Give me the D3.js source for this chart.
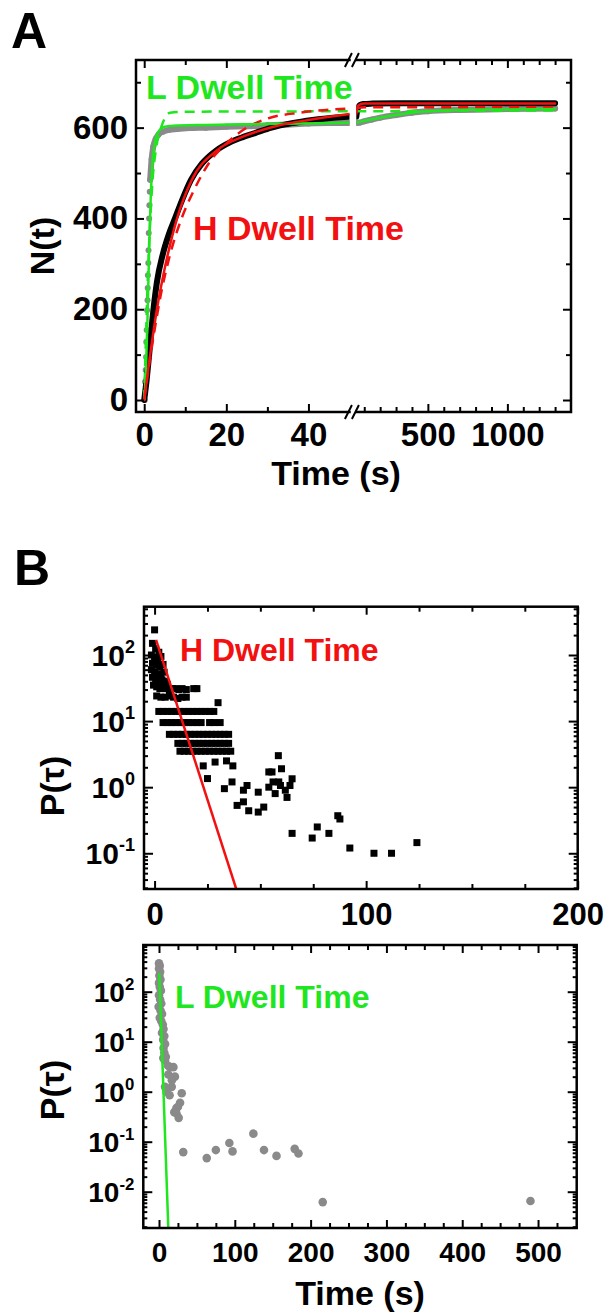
<!DOCTYPE html>
<html><head><meta charset="utf-8">
<script src="https://cdn.jsdelivr.net/npm/d3@7"></script>
<style>
body{margin:0;background:#fff;}
svg{display:block;}
</style></head><body>
<svg id="chart" width="605" height="1314"></svg>
<script>
// ---------------- DATA ----------------
// Panel A : cumulative counts N(t)
const aTimeMajor1 = [0, 20, 40];
const aTimeMinor1 = [10, 30];
const aTimeMajor2 = [500, 1000];
const aTimeMinor2 = [100, 200, 300, 400, 600, 700, 800, 900, 1100, 1200, 1300];
const aNMajor = [0, 200, 400, 600];
const aNMinor = [100, 300, 500, 700];

// H dwell time data (black)
const hCumT = [0, 0.6, 1.2, 2.2, 3.1, 4.5, 6, 7.5, 9.2, 11.4, 14, 17.6, 21, 24, 27, 31, 36, 41, 46, 50, 55, 62, 75, 95, 150, 300, 600, 1000, 1300];
const hCumN = [0, 45, 100, 195, 260, 320, 365, 400, 440, 485, 520, 550, 568, 579, 588, 600, 610, 617, 622, 624, 636, 645, 650, 652, 653, 654, 654, 654, 654];
// H fit (red solid)
const hFitT = [0, 1, 2, 3.1, 5, 8, 11.6, 17.7, 24, 31.5, 40, 50, 55, 62, 75, 100, 300, 700, 1300];
const hFitN = [0, 70, 135, 200, 290, 400, 485, 550, 580, 602, 617, 630, 641, 648, 651, 653, 653, 653, 653];
// H single-exp fit (red dashed)
const hFit1T = [0, 1, 2, 3, 4, 6, 9.1, 12, 16, 20, 25, 30, 38, 50, 100, 1300];
const hFit1N = [0, 65, 125, 180, 230, 310, 400, 460, 525, 565, 600, 620, 633, 642, 645, 645];
// L dwell time data (gray dots)
const lCumT = [0.15, 0.2, 0.35, 0.45, 0.5, 0.6, 0.7, 0.8, 0.85, 0.9, 1.0, 1.05, 1.1, 1.2, 1.25, 1.35, 1.45, 1.8, 2.2, 2.8, 3.5, 4.5, 6, 8, 11, 15, 20, 25, 30, 35, 40, 45, 50, 70, 100, 150, 200, 300, 400, 500, 700, 1000, 1300];
const lCumN = [0, 40, 66, 95, 128, 154, 198, 220, 247, 275, 302, 330, 368, 400, 429, 459, 485, 530, 558, 575, 585, 591, 595, 597, 599, 600, 602, 603, 605, 607, 609, 610, 610, 611, 614, 618, 622, 628, 633, 636, 639, 641, 642];
// L fit (green solid)
const lFitT = [0, 0.4, 0.8, 1.2, 1.6, 2, 2.5, 3, 4, 5, 7, 15, 30, 50, 100, 200, 300, 400, 500, 700, 1000, 1300];
const lFitN = [0, 60, 180, 330, 450, 520, 560, 582, 597, 602, 604, 606, 608, 611, 615, 622, 628, 633, 636, 639, 640, 641];
// L single-exp fit (green dashed)
const lFit1T = [0, 1, 2, 3, 4.3, 5.3, 6.3, 10, 50, 1300];
const lFit1N = [0, 300, 480, 560, 605, 625, 633, 635, 636, 638];

// Panel B (top): H dwell-time distribution (black squares)
const bTopXMajor = [0, 100, 200];
const bTopXMinor = [25, 50, 75, 125, 150, 175];
const bTopYMajor = [0.1, 1, 10, 100];
const hDistT = [0, -1, 0.5, 2, -1.5, 0, 1.5, 3, -1, 1, 2.5, 4, -1.5, 0, 1.5, 3, 4.5, -1, 0.5, 2, 3.5, 5, 6,
  -0.5, 1, 2.5, 4, 5.5, 7, 8.5, 10, 11.5, 13, 15, 18.5, 20,
  1, 3, 5, 7, 9, 11, 13, 15, 30,
  2, 4, 6, 8, 10, 12, 14, 16, 18, 20, 22, 24, 26, 28,
  4, 6, 8, 10, 12, 14, 16, 18, 20, 22, 26, 28, 31,
  7, 9, 11, 13, 15, 17, 19, 21, 23, 25, 27, 29, 31, 33, 35,
  11, 13, 15, 17, 19, 21, 23, 25, 27, 29, 31, 33, 35,
  12, 14, 16, 18, 20, 22, 24, 26, 28, 30, 32, 34, 36,
  58.5, 23, 28.6, 34, 37, 25, 33, 36.6, 43.7, 42, 39, 42, 44.5, 49, 51.6, 49, 54, 55.5, 54, 56, 57, 60, 59.5, 61.8, 62.6, 64, 65, 58.7,
  65, 74.5, 76.9, 82.4, 86.6, 87.6, 92.3, 103.7, 112, 124];
const hDistP = [240, 150, 125, 110, 100, 92, 85, 95, 75, 70, 66, 72, 60, 55, 52, 50, 55, 46, 43, 40, 42, 40, 36,
  35, 33, 31, 33, 31, 30, 31, 31, 30, 31, 30, 31, 31,
  24, 23, 23, 24, 23, 22, 23, 23, 19,
  14, 14, 14, 14, 14, 14, 14, 14, 14, 14, 14, 14, 14, 14,
  9.5, 9.5, 9.5, 9.5, 9.5, 9.5, 9.5, 9.5, 9.5, 9.5, 9.5, 9.5, 9.5,
  6.3, 6.3, 6.3, 6.3, 6.3, 6.3, 6.3, 6.3, 6.3, 6.3, 6.3, 6.3, 6.3, 6.3, 6.3,
  4.6, 4.6, 4.6, 4.6, 4.6, 4.6, 4.6, 4.6, 4.6, 4.6, 4.6, 4.6, 4.6,
  3.5, 3.5, 3.5, 3.5, 3.5, 3.5, 3.5, 3.5, 3.5, 3.5, 3.5, 3.5, 3.5,
  3.0, 2.1, 2.4, 2.5, 2.1, 1.35, 0.95, 1.2, 1.06, 0.9, 0.53, 0.6, 0.44, 0.42, 0.5, 0.84, 1.7, 1.7, 1.0, 1.2, 0.8, 1.9, 1.06, 0.9, 0.7, 1.06, 1.34, 1.2,
  0.2, 0.17, 0.25, 0.2, 0.37, 0.33, 0.12, 0.1, 0.1, 0.145];
const hExpT = [0.7, 38.6];
const hExpP = [169, 0.0288];

// Panel B (bottom): L dwell-time distribution (gray circles)
const bBotXMajor = [0, 100, 200, 300, 400, 500];
const bBotXMinor = [25, 50, 75, 125, 150, 175, 225, 250, 275, 325, 350, 375, 425, 450, 475, 525];
const bBotYMajor = [0.01, 0.1, 1, 10, 100];
const lDistT = [0, 1, 0, 1.5, 0.5, 2, 0, 1, 2.5, 0, 1.5, 3, -0.5, 2, 4, 1, 3, 5, 6, 4, 7, 5.5, 8, 6, 7, 9, 8, 5.7,
  12, 14.6, 19, 12.3, 21, 17, 8, 16.8, 10, 14, 30, 27.8, 25, 23, 20.2, 23, 26,
  32, 63, 75, 92.8, 97, 124.5, 138.5, 155, 179, 184, 216, 490];
const lDistP = [370, 330, 290, 250, 210, 175, 150, 125, 105, 85, 70, 58, 50, 42, 36, 30, 26, 22, 18, 15, 13, 11, 9, 7.5, 6, 5, 4.2, 4.7,
  3.3, 3.1, 3.1, 2.2, 2.0, 1.7, 1.25, 1.25, 1.0, 0.85, 0.93, 0.6, 0.5, 0.47, 0.39, 0.37, 0.3,
  0.062, 0.047, 0.068, 0.094, 0.064, 0.145, 0.068, 0.052, 0.072, 0.058, 0.0062, 0.0065];
const lExpT = [0.4, 12.3];
const lExpP = [233, 0.00188];

// ---------------- DRAWING ----------------
const svg = d3.select("#chart");
const FONT = "'Liberation Sans', Arial, Helvetica, sans-serif";
const GREEN = "#1fe61f", RED = "#f21010", GRAY = "#8a8a8a";
const zip = (a, b) => a.map((v, i) => [v, b[i]]);
const defs = svg.append("defs");

function styleAxis(sel, fs) {
  sel.select(".domain").remove();
  sel.selectAll(".tick line").attr("stroke", "#000").attr("stroke-width", 2);
  sel.selectAll(".tick text").attr("font-size", fs).attr("font-family", FONT)
    .attr("font-weight", "bold").attr("fill", "#000");
}
function addAxis(g, gen, tr, fs) {
  const s = g.append("g").attr("transform", tr).call(gen);
  styleAxis(s, fs || 10);
  return s;
}
function clip(id, x0, y0, x1, y1) {
  defs.append("clipPath").attr("id", id).append("rect")
    .attr("x", x0).attr("y", y0).attr("width", x1 - x0).attr("height", y1 - y0);
  return `url(#${id})`;
}
function txt(g, x, y, s, fs, color, anchor) {
  return g.append("text").attr("x", x).attr("y", y).text(s)
    .attr("font-family", FONT).attr("font-weight", "bold").attr("font-size", fs)
    .attr("fill", color || "#000").attr("text-anchor", anchor || "start");
}
const fmtInt = d3.format("d");

// ===== Panel A =====
const A = { l: 136, r: 571, t: 60, b: 412, b1: 349.5, b2: 356.3 };
const xA1 = d3.scaleLinear().domain([-2, 50]).range([A.l, A.b1]);
const xA2 = d3.scaleLinear().domain([50, 1400]).range([A.b2, A.r]);
const yA = d3.scaleLinear().domain([-26.4, 749]).range([A.b, A.t]);
const gA = svg.append("g");
const segs = [
  { x: xA1, clip: clip("cA1", A.l, A.t, A.b1, A.b), f: t => t <= 50 },
  { x: xA2, clip: clip("cA2", A.b2, A.t, A.r, A.b), f: t => t >= 50 }
];
function drawA(T, N, style, filt) {
  const pts = zip(T, N);
  segs.forEach(s => {
    const p = pts.filter(d => s.f(d[0]) && (!filt || filt(d)));
    const line = d3.line().x(d => s.x(d[0])).y(d => yA(d[1])).curve(d3.curveMonotoneX);
    const path = gA.append("path").attr("d", line(p)).attr("clip-path", s.clip)
      .attr("fill", "none").attr("stroke", style.c).attr("stroke-width", style.w)
      .attr("stroke-linejoin", "round").attr("stroke-linecap", "round");
    if (style.dash) path.attr("stroke-dasharray", style.dash).attr("stroke-linecap", "butt");
  });
}
// gray L data: dots + dense band
segs.forEach(s => {
  gA.append("g").attr("clip-path", s.clip).selectAll("circle")
    .data(zip(lCumT, lCumN).filter(d => s.f(d[0])))
    .join("circle").attr("cx", d => s.x(d[0])).attr("cy", d => yA(d[1])).attr("r", 3).attr("fill", GRAY);
});
drawA(lCumT, lCumN, { c: GRAY, w: 6 }, d => d[0] >= 1.45);
drawA(hCumT, hCumN, { c: "#000", w: 6 });
drawA(lFit1T, lFit1N, { c: GREEN, w: 2.5, dash: "10,7" });
drawA(hFit1T, hFit1N, { c: RED, w: 2.5, dash: "10,7" });
drawA(lFitT, lFitN, { c: GREEN, w: 2.5 });
drawA(hFitT, hFitN, { c: RED, w: 2.5 });

// axes A
addAxis(gA, d3.axisBottom(xA1).tickValues(aTimeMajor1).tickSize(-8).tickPadding(11).tickFormat(fmtInt), `translate(0,${A.b})`, 33);
addAxis(gA, d3.axisBottom(xA1).tickValues(aTimeMinor1).tickSize(-5).tickFormat(""), `translate(0,${A.b})`);
addAxis(gA, d3.axisBottom(xA2).tickValues(aTimeMajor2).tickSize(-8).tickPadding(11).tickFormat(fmtInt), `translate(0,${A.b})`, 33);
addAxis(gA, d3.axisBottom(xA2).tickValues(aTimeMinor2).tickSize(-5).tickFormat(""), `translate(0,${A.b})`);
addAxis(gA, d3.axisTop(xA1).tickValues(aTimeMajor1).tickSize(-8).tickFormat(""), `translate(0,${A.t})`);
addAxis(gA, d3.axisTop(xA1).tickValues(aTimeMinor1).tickSize(-5).tickFormat(""), `translate(0,${A.t})`);
addAxis(gA, d3.axisTop(xA2).tickValues(aTimeMajor2).tickSize(-8).tickFormat(""), `translate(0,${A.t})`);
addAxis(gA, d3.axisTop(xA2).tickValues(aTimeMinor2).tickSize(-5).tickFormat(""), `translate(0,${A.t})`);
addAxis(gA, d3.axisLeft(yA).tickValues(aNMajor).tickSize(-8).tickPadding(8).tickFormat(fmtInt), `translate(${A.l},0)`, 33);
addAxis(gA, d3.axisLeft(yA).tickValues(aNMinor).tickSize(-5).tickFormat(""), `translate(${A.l},0)`);
addAxis(gA, d3.axisRight(yA).tickValues(aNMajor).tickSize(-8).tickFormat(""), `translate(${A.r},0)`);
addAxis(gA, d3.axisRight(yA).tickValues(aNMinor).tickSize(-5).tickFormat(""), `translate(${A.r},0)`);
// frame with break
const frA = gA.append("g").attr("stroke", "#000").attr("stroke-width", 2.5).attr("fill", "none");
frA.append("path").attr("d", `M${A.b1},${A.t}H${A.l}V${A.b}H${A.b1}M${A.b2},${A.t}H${A.r}V${A.b}H${A.b2}`).attr("stroke-linecap", "square");
[A.t, A.b].forEach(y => {
  const cx = (A.b1 + A.b2) / 2;
  frA.append("path").attr("stroke-width", 2)
    .attr("d", `M${cx - 8},${y + 7}L${cx - 1},${y - 7}M${cx - 1},${y + 7}L${cx + 6},${y - 7}`);
});
txt(gA, 146, 99, "L Dwell Time", 34, GREEN);
txt(gA, 193, 240, "H Dwell Time", 34, RED);
txt(gA, 336, 485, "Time (s)", 34, "#000", "middle");
txt(gA, 0, 0, "N(t)", 34, "#000", "middle").attr("transform", "translate(54,246) rotate(-90)");
txt(gA, 11, 48, "A", 50);

// ===== Panel B =====
function logLabels(g, scale, vals, x, fs, sfs) {
  vals.forEach(v => {
    const e = Math.round(Math.log10(v));
    const t = g.append("text").attr("x", x).attr("y", scale(v)).attr("dy", "0.36em")
      .attr("text-anchor", "end").attr("font-family", FONT).attr("font-weight", "bold")
      .attr("font-size", fs).attr("fill", "#000");
    t.append("tspan").text("10");
    t.append("tspan").attr("font-size", sfs).attr("dy", -fs * 0.42).text(String(e));
  });
}
function logPanel(P) {
  const g = svg.append("g");
  const x = d3.scaleLinear().domain(P.xd).range([P.l, P.r]);
  const y = d3.scaleLog().domain(P.yd).range([P.b, P.t]);
  const cp = clip(P.id, P.l, P.t, P.r, P.b);
  const minorY = y.ticks().filter(v => !P.yMaj.some(m => Math.abs(m - v) / m < 1e-6));
  // marks
  const pts = zip(P.T, P.V);
  const mg = g.append("g").attr("clip-path", cp);
  if (P.square) {
    mg.selectAll("rect").data(pts).join("rect")
      .attr("x", d => x(d[0]) - 3.5).attr("y", d => y(d[1]) - 3.5).attr("width", 7).attr("height", 7).attr("fill", "#000");
  } else {
    mg.selectAll("circle").data(pts).join("circle")
      .attr("cx", d => x(d[0])).attr("cy", d => y(d[1])).attr("r", 4.3).attr("fill", GRAY);
  }
  mg.append("path").attr("d", d3.line().x(d => x(d[0])).y(d => y(d[1]))(zip(P.fT, P.fV)))
    .attr("fill", "none").attr("stroke", P.fc).attr("stroke-width", 2.5);
  // axes
  addAxis(g, d3.axisBottom(x).tickValues(P.xMaj).tickSize(-8).tickPadding(P.xpad).tickFormat(fmtInt), `translate(0,${P.b})`, P.xfs);
  addAxis(g, d3.axisBottom(x).tickValues(P.xMin).tickSize(-5).tickFormat(""), `translate(0,${P.b})`);
  addAxis(g, d3.axisTop(x).tickValues(P.xMaj).tickSize(-8).tickFormat(""), `translate(0,${P.t})`);
  addAxis(g, d3.axisTop(x).tickValues(P.xMin).tickSize(-5).tickFormat(""), `translate(0,${P.t})`);
  addAxis(g, d3.axisLeft(y).tickValues(P.yMaj).tickSize(-9).tickFormat(""), `translate(${P.l},0)`);
  addAxis(g, d3.axisLeft(y).tickValues(minorY).tickSize(-4).tickFormat(""), `translate(${P.l},0)`);
  addAxis(g, d3.axisRight(y).tickValues(P.yMaj).tickSize(-9).tickFormat(""), `translate(${P.r},0)`);
  addAxis(g, d3.axisRight(y).tickValues(minorY).tickSize(-4).tickFormat(""), `translate(${P.r},0)`);
  logLabels(g, y, P.yMaj, P.l - 9, P.yfs, P.yfs * 0.6);
  g.append("rect").attr("x", P.l).attr("y", P.t).attr("width", P.r - P.l).attr("height", P.b - P.t)
    .attr("fill", "none").attr("stroke", "#000").attr("stroke-width", 2.5);
  return g;
}
const gB1 = logPanel({ id: "cB1", l: 144, r: 577.7, t: 606.7, b: 889, xd: [-5, 200], yd: [0.0288, 538],
  T: hDistT, V: hDistP, fT: hExpT, fV: hExpP, fc: RED, square: true,
  xMaj: bTopXMajor, xMin: bTopXMinor, yMaj: bTopYMajor, xpad: 14, xfs: 31, yfs: 30 });
txt(gB1, 180, 661, "H Dwell Time", 32, RED);
txt(gB1, 0, 0, "P(τ)", 34, "#000", "middle").attr("transform", "translate(64,786) rotate(-90)");
txt(gB1, 14, 585, "B", 50);

const gB2 = logPanel({ id: "cB2", l: 143.3, r: 576.7, t: 945, b: 1228, xd: [-20.7, 551], yd: [0.00188, 859],
  T: lDistT, V: lDistP, fT: lExpT, fV: lExpP, fc: GREEN, square: false,
  xMaj: bBotXMajor, xMin: bBotXMinor, yMaj: bBotYMajor, xpad: 14, xfs: 28, yfs: 28 });
txt(gB2, 175, 1008, "L Dwell Time", 32, GREEN);
txt(gB2, 0, 0, "P(τ)", 34, "#000", "middle").attr("transform", "translate(64,1090) rotate(-90)");
txt(gB2, 360, 1305, "Time (s)", 34, "#000", "middle");
</script>
</body></html>
